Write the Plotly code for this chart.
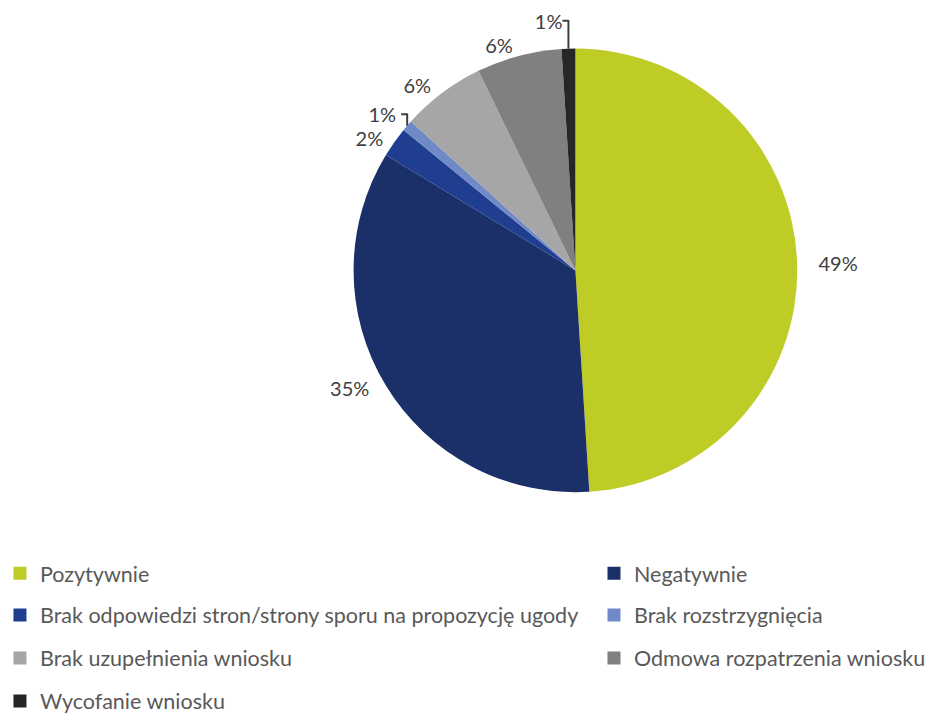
import plotly.graph_objects as go

categories = [
    "Pozytywnie",
    "Negatywnie",
    "Brak odpowiedzi stron/strony sporu na propozycję ugody",
    "Brak rozstrzygnięcia",
    "Brak uzupełnienia wniosku",
    "Odmowa rozpatrzenia wniosku",
    "Wycofanie wniosku",
]
values = [49.0, 34.7, 2.2, 0.8, 6.1, 6.2, 1.0]
colors = ["#C0CC26", "#1B2F69", "#1F3E8F", "#6F8AC7", "#A6A6A6", "#808080", "#262626"]
NB = "\u00a0"
label_templates = [
    NB * 3 + "%{percent:.0%}",
    "%{percent:.0%}" + NB * 2,
    "%{percent:.0%}" + NB,
    "%{percent:.0%}" + NB,
    "%{percent:.0%}" + NB,
    "%{percent:.0%}",
    "%{percent:.0%}",
]

fig = go.Figure()
fig.add_trace(go.Pie(
    labels=categories,
    values=values,
    sort=False,
    direction="clockwise",
    rotation=0,
    marker=dict(colors=colors, line=dict(width=0)),
    textposition="outside",
    texttemplate=label_templates,
    textfont=dict(family="Lato", size=20, color="#404040"),
    showlegend=False,
    hoverinfo="label+percent",
    domain=dict(x=[0.370, 0.845], y=[0.3205, 0.9435]),
))

# legend layout: one legend per entry, two columns, four rows
col_x = [-0.0086, 0.6274]
row_y = [0.2072, 0.1486, 0.0883, 0.028]
layout_legends = {}
for i, name in enumerate(categories):
    ln = "legend" if i == 0 else f"legend{i + 1}"
    fig.add_trace(go.Scatter(
        x=[None], y=[None], mode="markers", name=name,
        marker=dict(symbol="square", size=13, color=colors[i]),
        legend=ln, showlegend=True, hoverinfo="skip",
    ))
    layout_legends[ln] = dict(
        orientation="h", x=col_x[i % 2], xanchor="left",
        y=row_y[i // 2], yanchor="middle",
        font=dict(family="Lato", size=21.5, color="#595959"),
        bgcolor="rgba(0,0,0,0)", itemclick=False, itemdoubleclick=False,
    )

fig.update_layout(
    width=934, height=713,
    margin=dict(l=0, r=0, t=0, b=0, autoexpand=False),
    paper_bgcolor="white", plot_bgcolor="white",
    xaxis=dict(visible=False), yaxis=dict(visible=False),
    **layout_legends,
)
fig.write_html("out.html")
